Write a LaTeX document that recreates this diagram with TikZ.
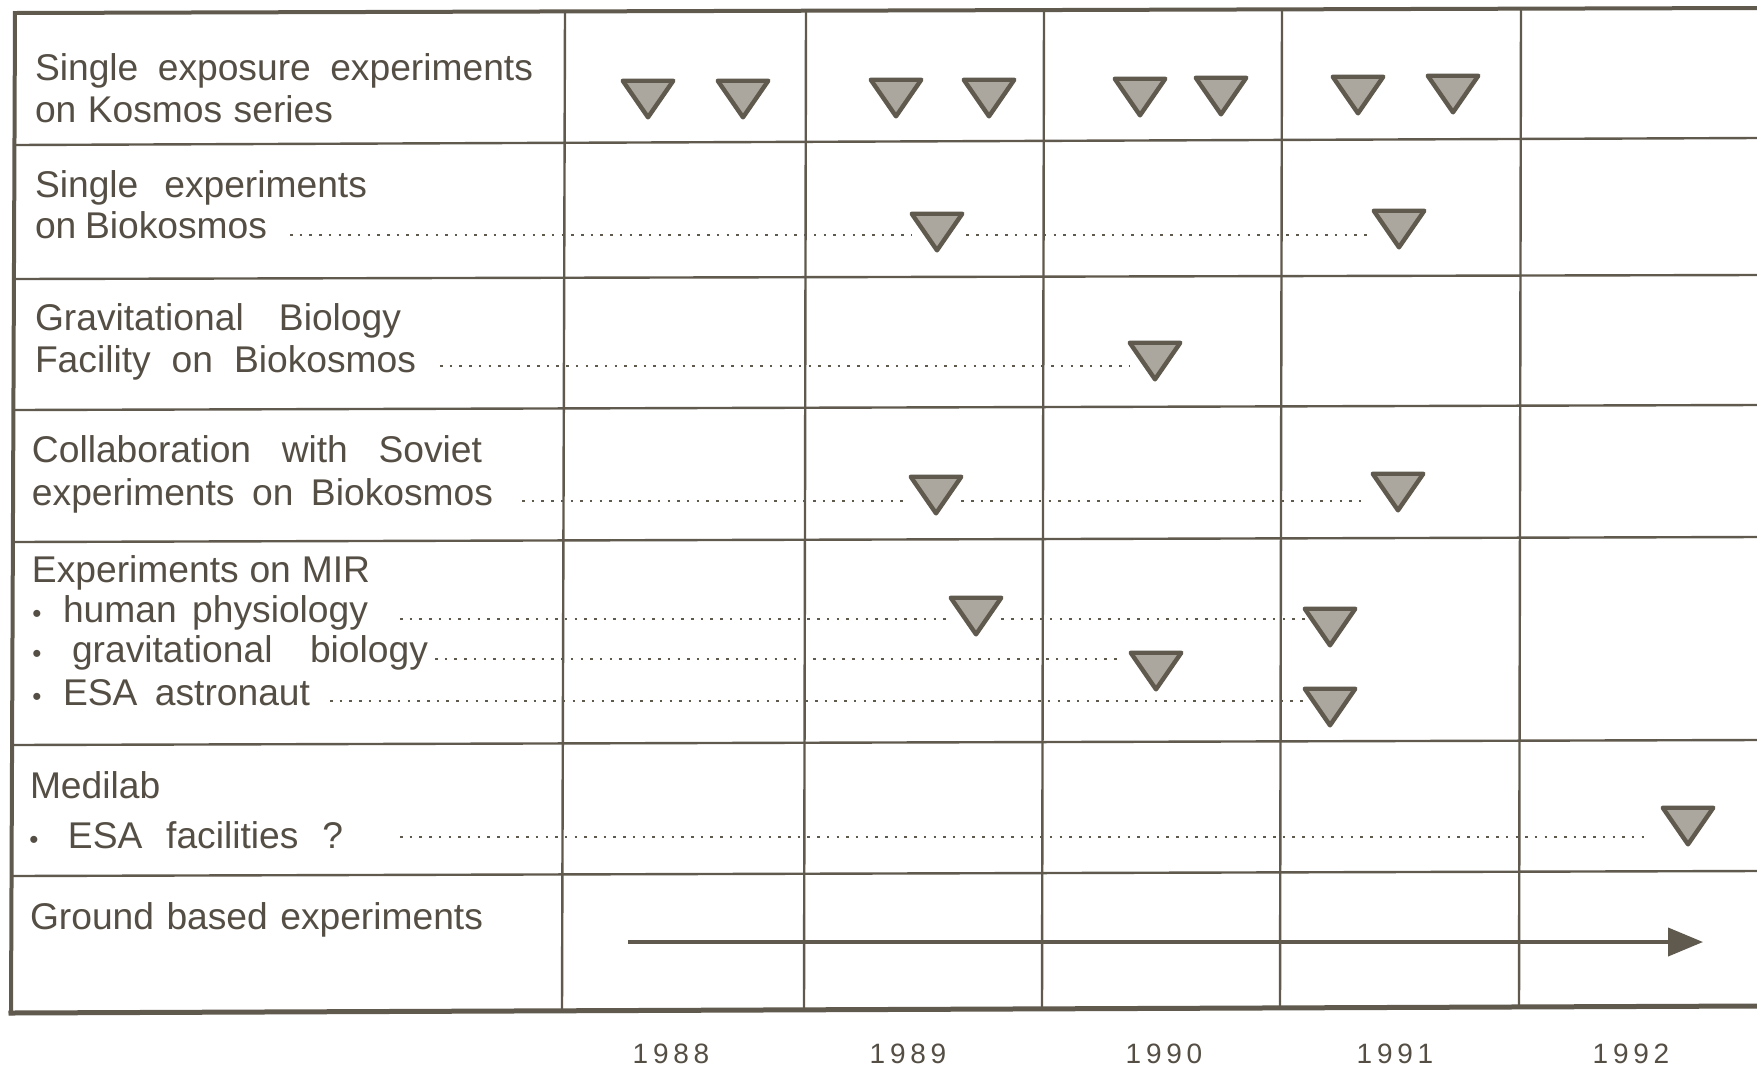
\documentclass[tikz,border=0pt]{standalone}
\usepackage{fontspec}
\setmainfont{Liberation Sans}
\usetikzlibrary{arrows.meta,calc}
\definecolor{ink}{RGB}{96,90,78}
\definecolor{txt}{RGB}{84,78,68}
\definecolor{trif}{RGB}{172,167,158}
\tikzset{
  gridline/.style={draw=ink, line width=1.2pt},
  frameline/.style={draw=ink, line width=2pt, line cap=rect},
  lab/.style={anchor=base west, inner sep=0pt, outer sep=0pt, text=txt, font=\fontsize{18.6pt}{21pt}\selectfont},
  yr/.style={anchor=base, inner sep=0pt, text=txt, font=\fontsize{14pt}{16pt}\selectfont\addfontfeature{LetterSpace=17}},
  tribox/.style={inner sep=0pt, outer sep=0pt, minimum width=25.3pt, minimum height=18.3pt},
  trimk/.style={draw=ink, fill=trif, line width=2.2pt, line join=round},
  dotline/.style={draw=ink, line width=1.25pt, dash pattern=on 1.25pt off 3.6pt},
  gbarrow/.style={draw=ink, line width=2pt, -{Triangle[length=17.5pt,width=14pt]}},
}
\newcommand{\trimark}[3]{%
  \node[tribox] (#1) at (#2,#3) {};
  \draw[trimk] (#1.north west) -- (#1.north east) -- (#1.south) -- cycle;}
\newcommand{\bul}[1]{\llap{{\fontsize{13pt}{13pt}\selectfont\textbullet}\hspace{#1}}}
\begin{document}
\begin{tikzpicture}[x=0.5pt,y=-0.5pt]
\useasboundingbox (0,0) rectangle (1757,1067);
\fill[white] (0,0) rectangle (1757,1067);

% grid
\draw[gridline] (15,145) -- (1757,138);
\draw[gridline] (14,279) -- (1757,275);
\draw[gridline] (14,410) -- (1757,405);
\draw[gridline] (13,542) -- (1757,537);
\draw[gridline] (12,745) -- (1757,740);
\draw[gridline] (12,876) -- (1757,871);
\draw[gridline] (565,11) -- (562,1011);
\draw[gridline] (806,11) -- (804,1010);
\draw[gridline] (1044,10) -- (1042,1009);
\draw[gridline] (1282,10) -- (1280,1008);
\draw[gridline] (1521,9) -- (1519,1007);
\draw[frameline] (15,13) -- (1757,8);
\draw[frameline] (15,13) -- (11,1013);
\draw[frameline, line width=2.5pt] (11,1013) -- (1757,1006);

% labels
\node[lab] (r1a) at (35,80) {\makebox[249pt][s]{Single exposure experiments}};
\node[lab] (r1b) at (35,122) {\makebox[149pt][s]{on Kosmos series}};
\node[lab] (r2a) at (35,197) {\makebox[166pt][s]{Single experiments}};
\node[lab] (r2b) at (35,238) {\makebox[116pt][s]{on Biokosmos}};
\node[lab] (r3a) at (35,330) {\makebox[183pt][s]{Gravitational Biology}};
\node[lab] (r3b) at (35,372) {\makebox[190.5pt][s]{Facility on Biokosmos}};
\node[lab] (r4a) at (32,462) {\makebox[225pt][s]{Collaboration with Soviet}};
\node[lab] (r4b) at (32,505) {\makebox[230.5pt][s]{experiments on Biokosmos}};
\node[lab] (r5a) at (32,582) {\makebox[169pt][s]{Experiments on MIR}};
\node[lab] (r5b) at (63,622) {\bul{10.7pt}\makebox[152.5pt][s]{human physiology}};
\node[lab] (r5c) at (72,662) {\bul{15.2pt}\makebox[178pt][s]{gravitational biology}};
\node[lab] (r5d) at (63,705) {\bul{10.7pt}\makebox[123.5pt][s]{ESA astronaut}};
\node[lab] (r6a) at (30,798) {Medilab};
\node[lab] (r6b) at (68,848) {\bul{14.7pt}\makebox[137.5pt][s]{ESA facilities ?}};
\node[lab] (r7) at (30,929) {\makebox[226.5pt][s]{Ground based experiments}};

% years
\node[yr] (y88) at (671,1063) {1988};
\node[yr] (y89) at (908,1063) {1989};
\node[yr] (y90) at (1164,1063) {1990};
\node[yr] (y91) at (1395,1063) {1991};
\node[yr] (y92) at (1631,1063) {1992};

% dotted leaders (start points)
\coordinate (d2) at (290,235);
\coordinate (d3) at (440,366);
\coordinate (d4) at (522,501);
\coordinate (d5a) at (400,619);
\coordinate (d5b) at (435,659);
\coordinate (d5c) at (330,701);
\coordinate (d6) at (400,837);

% triangles
\trimark{t11}{648}{99}
\trimark{t12}{743}{99}
\trimark{t13}{896}{98}
\trimark{t14}{989}{98}
\trimark{t15}{1140}{97}
\trimark{t16}{1221}{96}
\trimark{t17}{1358}{95}
\trimark{t18}{1453}{94}
\trimark{t21}{937}{232}
\trimark{t22}{1399}{229}
\trimark{t31}{1155}{361}
\trimark{t41}{936}{495}
\trimark{t42}{1398}{492}
\trimark{t51}{976}{616}
\trimark{t52}{1330}{627}
\trimark{t53}{1156}{671}
\trimark{t54}{1330}{707}
\trimark{t61}{1688}{826}

\draw[dotline] (d2) -- (d2 -| t21.west);
\draw[dotline] ([xshift=2pt]d2 -| t21.east) -- (d2 -| t22.west);
\draw[dotline] (d3) -- (d3 -| t31.west);
\draw[dotline] (d4) -- ([xshift=-4pt]d4 -| t41.west);
\draw[dotline] (d4 -| t41.east) -- ([xshift=-6pt]d4 -| t42.west);
\draw[dotline] (d5a) -- (d5a -| t51.west);
\draw[dotline] (d5a -| t51.east) -- (d5a -| t52.west);
\draw[dotline] (d5b) -- ([xshift=-5pt]d5b -| t53.west);
\draw[dotline] (d5c) -- (d5c -| t54.west);
\draw[dotline] (d6) -- ([xshift=-6pt]d6 -| t61.west);

% ground based arrow
\coordinate (gbs) at (628,942);
\coordinate (gbe) at (1703,942);
\draw[gbarrow] (gbs) -- (gbe);
\end{tikzpicture}
\end{document}
